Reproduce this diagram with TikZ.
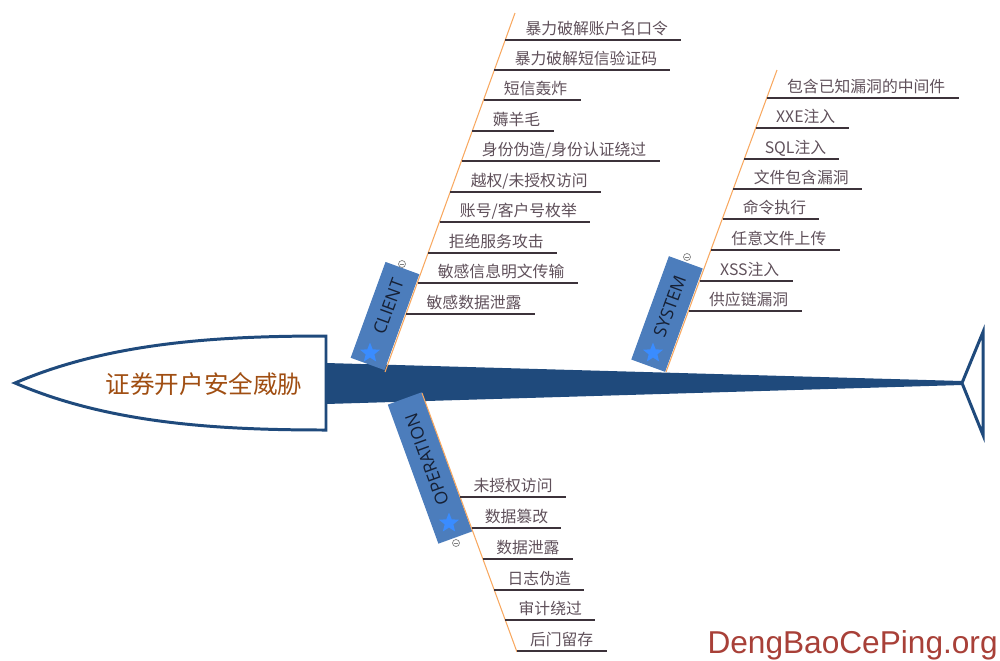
\documentclass[tikz,border=0pt]{standalone}
\usepackage{fontspec}
\newfontfamily\cjk{Noto Sans CJK SC}
\newfontfamily\catfont{Open Sans}
\newfontfamily\markfont{Liberation Sans}
\usetikzlibrary{shapes.geometric}

\definecolor{fishblue}{RGB}{31,74,124}
\definecolor{boxblue}{RGB}{76,125,188}
\definecolor{starblue}{RGB}{58,140,255}
\definecolor{catnavy}{RGB}{22,32,52}
\definecolor{boneorange}{RGB}{248,168,96}
\definecolor{ulinegray}{RGB}{60,50,58}
\definecolor{lblgray}{RGB}{95,80,90}
\definecolor{titlebrown}{RGB}{160,78,18}
\definecolor{markred}{RGB}{168,64,56}

\tikzset{
	lbl/.style={anchor=base west, inner sep=0pt, text=lblgray, font=\cjk\fontsize{9}{10}\selectfont},
	uline/.style={draw=ulinegray, line width=1.1pt},
	bone/.style={draw=boneorange, line width=0.6pt},
	catbox/.style={fill=boxblue, minimum height=0.72cm, inner sep=0pt, text=catnavy, font=\catfont\fontsize{10}{12}\selectfont},
	starmark/.style={star, star points=5, star point ratio=2.3, fill=starblue, inner sep=0pt, minimum size=0.42cm},
	knob/.style={circle, draw=gray, fill=white, line width=0.4pt, minimum size=0.14cm, inner sep=0pt}
}

\begin{document}
\begin{tikzpicture}[x=0.02cm, y=-0.02cm]
		\useasboundingbox (0,0) rectangle (1000,660);

		% head, spine, tail
		\fill[fishblue] (326,363) -- (962,381) -- (962,385) -- (326,404) -- cycle;
		\draw[fishblue, line width=1.7pt, fill=white] (15,383) .. controls (110,342) and (220,336) .. (326,336) -- (326,430) .. controls (220,430) and (110,424) .. (15,383) -- cycle;
		\draw[fishblue, line width=1.7pt, fill=white] (962,383) -- (983,332) -- (983,435) -- cycle;
		\node[font=\cjk\fontsize{14}{16}\selectfont, text=titlebrown] (title) at (204,384) {证券开户安全威胁};

		% category boxes
		\node[catbox, minimum width=2.04cm, rotate=70] (client) at (385,316) {\hspace{0.4cm}CLIENT};
		\node[catbox, minimum width=2.2cm, rotate=70] (system) at (667,314) {\hspace{0.32cm}SYSTEM};
		\node[catbox, minimum width=2.96cm, rotate=110] (operation) at (430,468) {\hspace{0.36cm}OPERATION};
		\node[starmark] (clients) at (370,353) {};
		\node[starmark] (systems) at (653,353) {};
		\node[starmark] (operations) at (449,523) {};
		\node[knob] (clientk) at (402,264) {};
		\node[knob] (systemk) at (687,257) {};
		\node[knob] (operationk) at (456,543) {};
		\draw[gray, line width=0.4pt] ([xshift=-0.04cm]clientk.center) to ([xshift=0.04cm]clientk.center);
		\draw[gray, line width=0.4pt] ([xshift=-0.04cm]systemk.center) to ([xshift=0.04cm]systemk.center);
		\draw[gray, line width=0.4pt] ([xshift=-0.04cm]operationk.center) to ([xshift=0.04cm]operationk.center);

		% bones
		\coordinate (cl0) at (385,372);
		\coordinate (cl1) at (515,13);
		\coordinate (sy0) at (666,372);
		\coordinate (sy1) at (777,70);
		\coordinate (op0) at (422,393);
		\coordinate (op1) at (517,652);
		\draw[bone] (cl0) to (cl1);
		\draw[bone] (sy0) to (sy1);
		\draw[bone] (op0) to (op1);

		% CLIENT
		\coordinate (c1) at (505.3,40);
		\coordinate (c2) at (494.4,70);
		\coordinate (c3) at (483.6,100);
		\coordinate (c4) at (472.4,131);
		\coordinate (c5) at (461.6,161);
		\coordinate (c6) at (450.4,192);
		\coordinate (c7) at (439.6,222);
		\coordinate (c8) at (428.4,253);
		\coordinate (c9) at (417.5,283);
		\coordinate (c10) at (406.3,314);
		\node[lbl] (c1t) at (525.3,34) {暴力破解账户名口令};
		\node[lbl] (c2t) at (514.4,64) {暴力破解短信验证码};
		\node[lbl] (c3t) at (503.6,94) {短信轰炸};
		\node[lbl] (c4t) at (492.4,125) {薅羊毛};
		\node[lbl] (c5t) at (481.6,155) {身份伪造/身份认证绕过};
		\node[lbl] (c6t) at (470.4,186) {越权/未授权访问};
		\node[lbl] (c7t) at (459.6,216) {账号/客户号枚举};
		\node[lbl] (c8t) at (448.4,247) {拒绝服务攻击};
		\node[lbl] (c9t) at (437.5,277) {敏感信息明文传输};
		\node[lbl] (c10t) at (426.3,308) {敏感数据泄露};
		\draw[uline] (c1) to ([xshift=0.26cm]c1t.east |- c1);
		\draw[uline] (c2) to ([xshift=0.26cm]c2t.east |- c2);
		\draw[uline] (c3) to ([xshift=0.26cm]c3t.east |- c3);
		\draw[uline] (c4) to ([xshift=0.26cm]c4t.east |- c4);
		\draw[uline] (c5) to ([xshift=0.26cm]c5t.east |- c5);
		\draw[uline] (c6) to ([xshift=0.26cm]c6t.east |- c6);
		\draw[uline] (c7) to ([xshift=0.26cm]c7t.east |- c7);
		\draw[uline] (c8) to ([xshift=0.26cm]c8t.east |- c8);
		\draw[uline] (c9) to ([xshift=0.26cm]c9t.east |- c9);
		\draw[uline] (c10) to ([xshift=0.26cm]c10t.east |- c10);

		% SYSTEM
		\coordinate (s1) at (766.8,98);
		\coordinate (s2) at (755.8,128);
		\coordinate (s3) at (744.4,159);
		\coordinate (s4) at (733.4,189);
		\coordinate (s5) at (722.5,219);
		\coordinate (s6) at (711.1,250);
		\coordinate (s7) at (699.8,281);
		\coordinate (s8) at (688.8,311);
		\node[lbl] (s1t) at (786.8,92) {包含已知漏洞的中间件};
		\node[lbl] (s2t) at (775.8,122) {XXE注入};
		\node[lbl] (s3t) at (764.4,153) {SQL注入};
		\node[lbl] (s4t) at (753.4,183) {文件包含漏洞};
		\node[lbl] (s5t) at (742.5,213) {命令执行};
		\node[lbl] (s6t) at (731.1,244) {任意文件上传};
		\node[lbl] (s7t) at (719.8,275) {XSS注入};
		\node[lbl] (s8t) at (708.8,305) {供应链漏洞};
		\draw[uline] (s1) to ([xshift=0.26cm]s1t.east |- s1);
		\draw[uline] (s2) to ([xshift=0.26cm]s2t.east |- s2);
		\draw[uline] (s3) to ([xshift=0.26cm]s3t.east |- s3);
		\draw[uline] (s4) to ([xshift=0.26cm]s4t.east |- s4);
		\draw[uline] (s5) to ([xshift=0.26cm]s5t.east |- s5);
		\draw[uline] (s6) to ([xshift=0.26cm]s6t.east |- s6);
		\draw[uline] (s7) to ([xshift=0.26cm]s7t.east |- s7);
		\draw[uline] (s8) to ([xshift=0.26cm]s8t.east |- s8);

		% OPERATION
		\coordinate (o1) at (460.2,497);
		\coordinate (o2) at (471.5,528);
		\coordinate (o3) at (482.9,559);
		\coordinate (o4) at (494.3,590);
		\coordinate (o5) at (505.3,620);
		\coordinate (o6) at (516.7,651);
		\node[lbl] (o1t) at (473.2,491) {未授权访问};
		\node[lbl] (o2t) at (484.5,522) {数据篡改};
		\node[lbl] (o3t) at (495.9,553) {数据泄露};
		\node[lbl] (o4t) at (507.3,584) {日志伪造};
		\node[lbl] (o5t) at (518.3,614) {审计绕过};
		\node[lbl] (o6t) at (529.7,645) {后门留存};
		\draw[uline] (o1) to ([xshift=0.26cm]o1t.east |- o1);
		\draw[uline] (o2) to ([xshift=0.26cm]o2t.east |- o2);
		\draw[uline] (o3) to ([xshift=0.26cm]o3t.east |- o3);
		\draw[uline] (o4) to ([xshift=0.26cm]o4t.east |- o4);
		\draw[uline] (o5) to ([xshift=0.26cm]o5t.east |- o5);
		\draw[uline] (o6) to ([xshift=0.26cm]o6t.east |- o6);

		\node[anchor=base east, inner sep=0pt, text=markred, font=\markfont\fontsize{18}{20}\selectfont] (mark) at (998,653) {DengBaoCePing.org};
\end{tikzpicture}
\end{document}
